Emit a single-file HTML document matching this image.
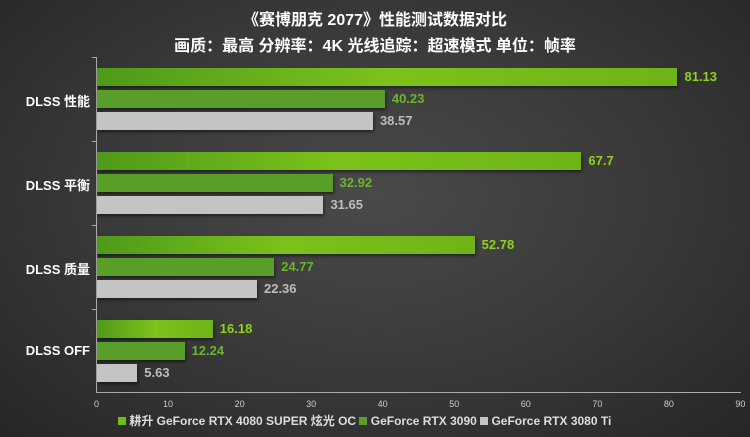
<!DOCTYPE html>
<html><head><meta charset="utf-8"><style>
body{margin:0;width:750px;height:437px;overflow:hidden;background:radial-gradient(ellipse at 50% 45%,#4a4a4a 0%,#383838 55%,#262626 100%);font-family:"Liberation Sans","Noto Sans CJK SC",sans-serif;}
.t{position:absolute;left:0;width:750px;text-align:center;color:#fff;font-weight:bold;font-size:16px;}
.b{position:absolute;left:97px;height:18px;box-shadow:1px 2px 3px rgba(0,0,0,.5);}
.g1{background:linear-gradient(90deg,#4e9a1a,#7cc21a 50%,#6fb417);}
.g2{background:#5a9e2a;}
.g3{background:#c4c4c4;}
.v{position:absolute;font-weight:bold;font-size:13px;}
.c{position:absolute;color:#fff;font-weight:bold;font-size:13px;right:660px;text-align:right;white-space:nowrap;}
.tk{position:absolute;top:399px;font-size:9px;color:#ccc;width:30px;margin-left:-15px;text-align:center;}
</style></head><body>
<div class="t" style="top:6px">《赛博朋克 2077》性能测试数据对比</div>
<div class="t" style="top:32px">画质：最高 分辨率：4K 光线追踪：超速模式 单位：帧率</div>
<div style="position:absolute;left:96px;top:57px;width:1px;height:336px;background:#aaa"></div>
<div style="position:absolute;left:96px;top:392px;width:645px;height:1px;background:#aaa"></div>
<div id="x"></div>
<script>
var d=[["DLSS 性能",81.13,40.23,38.57],["DLSS 平衡",67.7,32.92,31.65],["DLSS 质量",52.78,24.77,22.36],["DLSS OFF",16.18,12.24,5.63]];
var s=7.155,h="";
d.forEach(function(r,i){var t=57+i*84;
h+='<div class="c" style="top:'+(t+34)+'px;left:0;width:90px">'+r[0]+'</div>';
h+='<div style="position:absolute;left:92px;top:'+t+'px;width:4px;height:1px;background:#aaa"></div>';
var cl=["g1","g2","g3"],tc=["#8fd21a","#6cb52e","#bdbdbd"];
for(var k=0;k<3;k++){var w=r[k+1]*s,y=t+11+k*22;
h+='<div class="b '+cl[k]+'" style="top:'+y+'px;width:'+w+'px"></div>';
h+='<div class="v" style="top:'+(y+1)+'px;left:'+(97+w+7)+'px;color:'+tc[k]+'">'+r[k+1]+'</div>';}
});
for(var j=0;j<=9;j++){h+='<div class="tk" style="left:'+(96.5+j*10*s)+'px">'+j*10+'</div>';}
document.getElementById("x").innerHTML=h;
</script>
<div style="position:absolute;top:412px;left:118px;font-size:12px;font-weight:bold;color:#ddd;white-space:nowrap">
<span style="display:inline-block;width:8px;height:8px;background:#6fbf1a"></span> 耕升 GeForce RTX 4080 SUPER 炫光 OC <span style="display:inline-block;width:8px;height:8px;background:#5a9e2a"></span> GeForce RTX 3090 <span style="display:inline-block;width:8px;height:8px;background:#c4c4c4"></span> GeForce RTX 3080 Ti</div>
</body></html>
